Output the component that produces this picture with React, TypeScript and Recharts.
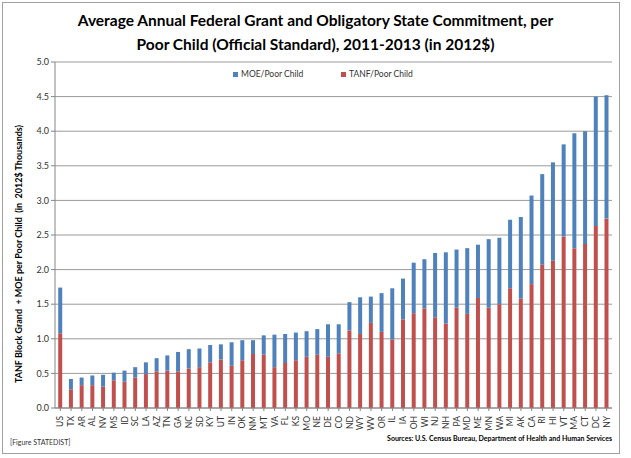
import React from "react";
import { BarChart, Bar, XAxis, YAxis, CartesianGrid } from "recharts";

const estados = [
  "US", "TX", "AR", "AL", "NV", "MS", "ID", "SC", "LA", "AZ", "TN", "GA", "NC",
  "SD", "KY", "UT", "IN", "OK", "NM", "MT", "VA", "FL", "KS", "MO", "NE", "DE",
  "CO", "ND", "WY", "WV", "OR", "IL", "IA", "OH", "WI", "NJ", "NH", "PA", "MD",
  "ME", "MN", "WA", "MI", "AK", "CA", "RI", "HI", "VT", "MA", "CT", "DC", "NY",
];

// TANF por crianca pobre (parte vermelha), milhares de 2012$
const tanf = [
  1.08, 0.27, 0.33, 0.33, 0.31, 0.40, 0.38, 0.44, 0.49, 0.53, 0.54, 0.53, 0.57,
  0.59, 0.66, 0.70, 0.61, 0.69, 0.78, 0.77, 0.59, 0.65, 0.69, 0.74, 0.77, 0.74,
  0.79, 1.12, 1.07, 1.23, 1.10, 0.99, 1.28, 1.37, 1.44, 1.31, 1.22, 1.45, 1.36,
  1.59, 1.45, 1.50, 1.73, 1.58, 1.79, 2.07, 2.13, 2.48, 2.31, 2.37, 2.63, 2.74,
];

// MOE por crianca pobre (parte azul, empilhada)
const moe = [
  0.66, 0.15, 0.11, 0.14, 0.17, 0.11, 0.16, 0.15, 0.17, 0.19, 0.22, 0.28, 0.28,
  0.27, 0.25, 0.22, 0.34, 0.29, 0.20, 0.28, 0.47, 0.42, 0.40, 0.37, 0.37, 0.47,
  0.42, 0.41, 0.53, 0.38, 0.56, 0.74, 0.59, 0.73, 0.71, 0.93, 1.03, 0.84, 0.95,
  0.77, 0.99, 0.96, 0.99, 1.18, 1.28, 1.31, 1.42, 1.33, 1.66, 1.63, 1.87, 1.78,
];

const ticksY = [0, 0.5, 1, 1.5, 2, 2.5, 3, 3.5, 4, 4.5, 5];

const AZUL = "#4f81bd";
const VERMELHO = "#c0504d";
const FONTE = 'Lato, "Open Sans", sans-serif';

const dados = estados.map((st, i) => ({ st, tanf: tanf[i], moe: moe[i] }));

function TickEstado(props: any) {
  const { x, y, payload } = props;
  return (
    <g transform={`translate(${x},${y})`}>
      <text
        transform="rotate(-90)"
        x={-3}
        y={0}
        dy="0.35em"
        textAnchor="end"
        fontSize={8.5}
        fill="#333"
        fontFamily={FONTE}
      >
        {payload.value}
      </text>
    </g>
  );
}

function Legenda() {
  const item = (cor: string, txt: string, w: number) => (
    <span style={{ display: "inline-flex", alignItems: "center", width: w }}>
      <span style={{ width: 5, height: 5, background: cor, marginRight: 3, display: "inline-block" }} />
      {txt}
    </span>
  );
  return (
    <div
      style={{
        position: "absolute", left: 233, top: 69, fontSize: 8.5, color: "#333",
        fontFamily: FONTE, whiteSpace: "nowrap", display: "flex",
      }}
    >
      {item(AZUL, "MOE/Poor Child", 108)}
      {item(VERMELHO, "TANF/Poor Child", 90)}
    </div>
  );
}

export default function App() {
  return (
    <div style={{ position: "absolute", left: 0, top: 0, width: 631, height: 458, background: "#fff" }}>
      <div
        style={{
          position: "absolute", left: 2, top: 2, width: 618, height: 452,
          border: "1px solid #a0a0a0", boxSizing: "border-box",
        }}
      />
      <div
        style={{
          position: "absolute", left: 0, top: 8, width: 631, textAlign: "center",
          fontFamily: FONTE, fontWeight: "bold", fontSize: 15.5, lineHeight: "24px", color: "#000",
        }}
      >
        Average Annual Federal Grant and Obligatory State Commitment, per
        <br />
        Poor Child (Official Standard), 2011-2013 (in 2012$)
      </div>
      <div style={{ position: "absolute", left: 18, top: 254, width: 0, height: 0 }}>
        <div
          style={{
            position: "absolute", transform: "translate(-50%, -50%) rotate(-90deg)",
            whiteSpace: "nowrap", fontFamily: FONTE, fontWeight: "bold", fontSize: 9, color: "#000",
          }}
        >
          TANF Block Grand&nbsp; + MOE per Poor Child&nbsp; (in&nbsp; 2012$ Thousands)
        </div>
      </div>
      <div style={{ position: "absolute", left: 0, top: 0 }}>
        <BarChart
          width={631}
          height={458}
          data={dados}
          margin={{ top: 62, right: 19, left: 25, bottom: 25 }}
          barCategoryGap="30%"
        >
          <CartesianGrid vertical={false} stroke="#9a9a9a" yAxisId="esq" />
          <XAxis
            dataKey="st"
            interval={0}
            tick={<TickEstado />}
            tickLine={{ stroke: "#868686" }}
            tickSize={3}
            axisLine={{ stroke: "#868686" }}
            height={25}
          />
          <YAxis
            yAxisId="esq"
            domain={[0, 5]}
            ticks={ticksY}
            tickFormatter={(v: number) => v.toFixed(1)}
            tick={{ fontSize: 9, fill: "#333", fontFamily: FONTE }}
            tickLine={{ stroke: "#868686" }}
            tickSize={4}
            axisLine={{ stroke: "#868686" }}
            width={30}
          />
          <YAxis
            yAxisId="dir"
            orientation="right"
            domain={[0, 5]}
            tick={false}
            tickLine={false}
            axisLine={{ stroke: "#9a9a9a" }}
            width={0}
          />
          <Bar yAxisId="esq" dataKey="tanf" name="TANF/Poor Child" stackId="a" fill={VERMELHO} isAnimationActive={false} />
          <Bar yAxisId="esq" dataKey="moe" name="MOE/Poor Child" stackId="a" fill={AZUL} isAnimationActive={false} />
        </BarChart>
      </div>
      <Legenda />
      <div
        style={{
          position: "absolute", right: 19, top: 434, fontFamily: FONTE, fontWeight: "bold",
          fontSize: 7, color: "#000", whiteSpace: "nowrap",
        }}
      >
        Sources: U.S. Census Bureau, Department of Health and Human Services
      </div>
      <div
        style={{
          position: "absolute", left: 10, top: 438, fontFamily: FONTE,
          fontSize: 7, color: "#333", whiteSpace: "nowrap",
        }}
      >
        [Figure STATEDIST]
      </div>
    </div>
  );
}
